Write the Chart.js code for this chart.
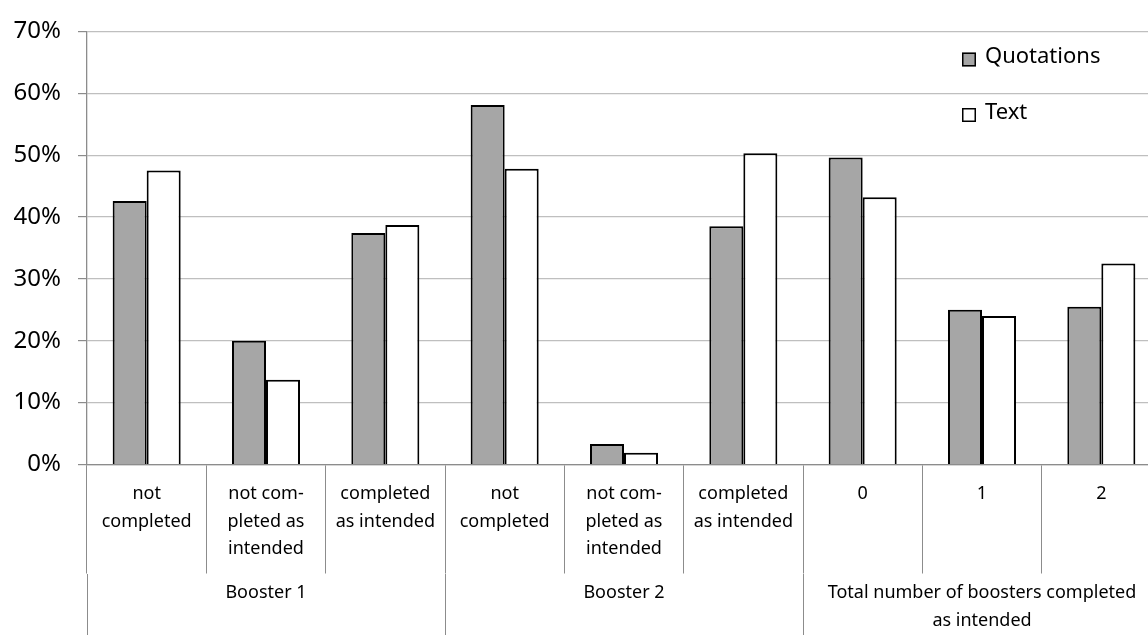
<!DOCTYPE html>
<html>
<head>
<meta charset="utf-8">
<title>Booster completion by condition</title>
<script src="https://cdn.jsdelivr.net/npm/chart.js@4.4.1/dist/chart.umd.min.js"></script>
<style>
  html, body { margin: 0; padding: 0; overflow: hidden; background: #ffffff; }
  #wrap { width: 1161px; height: 660px; }
</style>
</head>
<body>
<div id="wrap"><canvas id="chart" width="1161" height="660"></canvas></div>
<script>
// Category labels (first level) and their groups (second level)
const categories = [
  ["not", "completed"],
  ["not com-", "pleted as", "intended"],
  ["completed", "as intended"],
  ["not", "completed"],
  ["not com-", "pleted as", "intended"],
  ["completed", "as intended"],
  ["0"],
  ["1"],
  ["2"]
];
const groups = [
  ["Booster 1"],
  ["Booster 2"],
  ["Total number of boosters completed", "as intended"]
];

// Share of participants (%) per condition
const quotations = [42.6, 20.0, 37.4, 58.1, 3.3, 38.5, 49.6, 25.0, 25.5];
const text = [47.5, 13.7, 38.7, 47.8, 1.9, 50.3, 43.2, 24.0, 32.5];

// Value axis ticks
const yTickValues = [0, 10, 20, 30, 40, 50, 60, 70];

const CANVAS_H = 660;
const AXIS_GRAY = '#8c8c8c';

Chart.defaults.font.family = "'Noto Sans', 'Open Sans', sans-serif";
Chart.defaults.color = '#000000';

// Vertical legend with square swatches, drawn inside the plot area
const boxLegend = {
  id: 'boxLegend',
  afterDraw(chart, args, opts) {
    const ctx = chart.ctx;
    ctx.save();
    ctx.font = opts.font;
    ctx.textAlign = 'left';
    ctx.textBaseline = 'middle';
    chart.data.datasets.forEach((ds, i) => {
      const bx = opts.x;
      const by = opts.y + i * opts.spacing;
      ctx.fillStyle = ds.backgroundColor;
      ctx.fillRect(bx, by, opts.box, opts.box);
      ctx.lineWidth = 1.5;
      ctx.strokeStyle = '#000000';
      ctx.strokeRect(bx + 0.75, by + 0.75, opts.box - 1.5, opts.box - 1.5);
      ctx.fillStyle = '#000000';
      ctx.fillText(ds.label, bx + opts.box + opts.gap, by + opts.box / 2 - 2.5);
    });
    ctx.restore();
  }
};

new Chart(document.getElementById('chart'), {
  type: 'bar',
  data: {
    labels: categories,
    datasets: [
      {
        label: 'Quotations',
        data: quotations,
        backgroundColor: '#a6a6a6',
        borderColor: '#000000',
        borderWidth: 2,
        categoryPercentage: 0.57,
        barPercentage: 1.0
      },
      {
        label: 'Text',
        data: text,
        backgroundColor: '#ffffff',
        borderColor: '#000000',
        borderWidth: 2,
        categoryPercentage: 0.57,
        barPercentage: 1.0
      }
    ]
  },
  options: {
    responsive: false,
    animation: false,
    devicePixelRatio: 1,
    layout: { padding: { top: 27, left: 0, right: 0, bottom: 0 } },
    plugins: {
      legend: { display: false },
      tooltip: { enabled: false },
      boxLegend: {
        x: 962, y: 52.5, box: 14, gap: 9, spacing: 55.5,
        font: "22px 'Noto Sans', 'Open Sans', sans-serif"
      }
    },
    scales: {
      x: {
        type: 'category',
        position: 'bottom',
        weight: 0,
        offset: true,
        grid: {
          offset: true,
          drawOnChartArea: false,
          color: AXIS_GRAY,
          lineWidth: 1,
          tickLength: 109
        },
        border: { display: true, color: AXIS_GRAY, width: 1.3 },
        ticks: {
          autoSkip: false,
          maxRotation: 0,
          minRotation: 0,
          padding: -93,
          color: '#000000',
          font: { size: 18, lineHeight: 1.53 }
        },
        afterFit(scale) { scale.height = 109; }
      },
      x2: {
        type: 'category',
        labels: groups,
        position: 'bottom',
        weight: 1,
        offset: true,
        grid: {
          offset: true,
          drawOnChartArea: false,
          color: AXIS_GRAY,
          lineWidth: 1,
          tickLength: 90
        },
        border: { display: false },
        ticks: {
          autoSkip: false,
          maxRotation: 0,
          minRotation: 0,
          padding: -84,
          color: '#000000',
          font: { size: 18, lineHeight: 1.53 }
        },
        afterFit(scale) { scale.height = CANVAS_H - 573.5; }
      },
      y: {
        min: 0,
        max: 70,
        afterBuildTicks(scale) {
          scale.ticks = yTickValues.map(v => ({ value: v }));
        },
        grid: {
          color: '#bfbfbf',
          tickColor: AXIS_GRAY,
          lineWidth: 1.2,
          tickLength: 9
        },
        border: { display: true, color: AXIS_GRAY, width: 1.3 },
        ticks: {
          padding: 17,
          color: '#000000',
          font: { size: 24 },
          callback: v => v + '%'
        },
        afterFit(scale) { scale.width = 87; }
      }
    }
  },
  plugins: [boxLegend]
});
</script>
</body>
</html>
